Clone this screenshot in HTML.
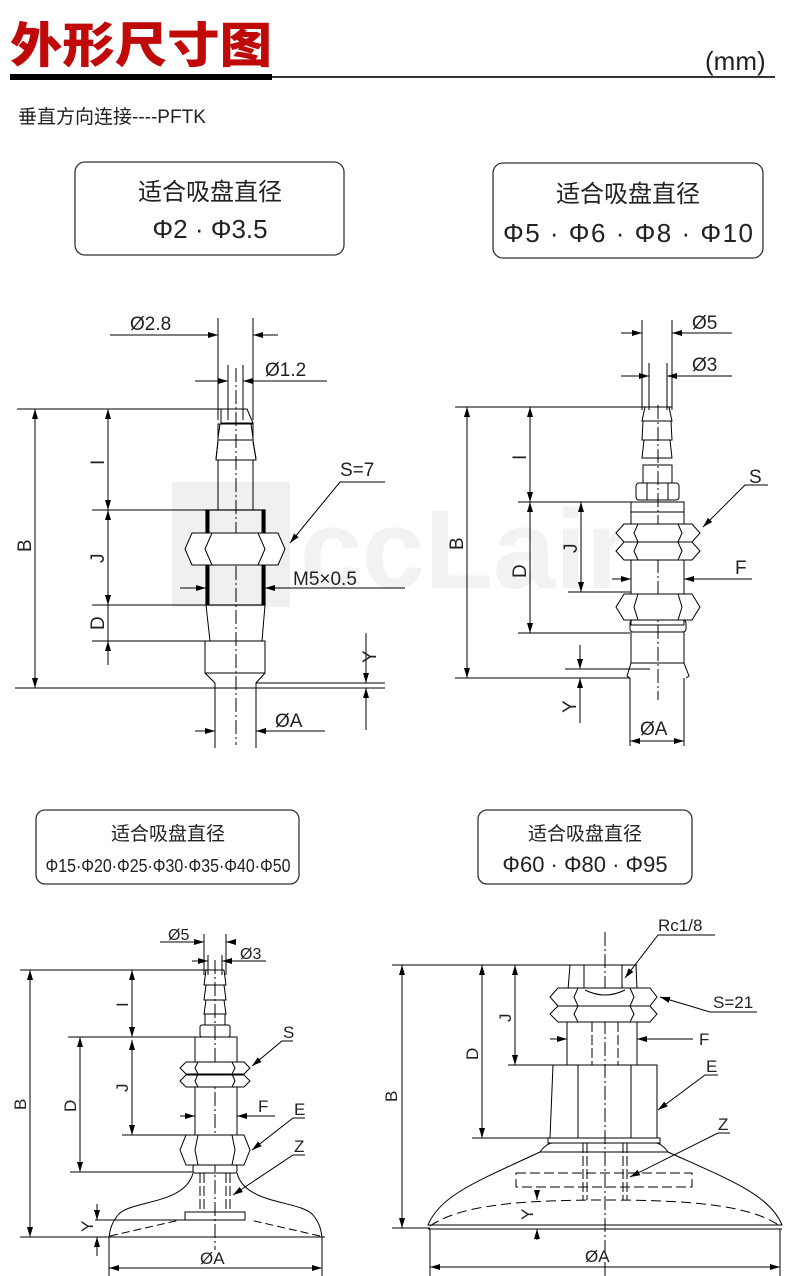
<!DOCTYPE html>
<html><head><meta charset="utf-8">
<style>
html,body{margin:0;padding:0;background:#fff;}
body{width:790px;height:1276px;overflow:hidden;position:relative;font-family:"Liberation Sans","Noto Sans CJK SC",sans-serif;}
svg{position:absolute;left:0;top:0;}
</style></head><body>
<svg width="790" height="1276" viewBox="0 0 790 1276" xmlns="http://www.w3.org/2000/svg" font-family="Liberation Sans, Noto Sans CJK SC, sans-serif">
<defs>
<marker id="a" viewBox="0 0 10 6" refX="10" refY="3" markerWidth="10" markerHeight="6" orient="auto-start-reverse" markerUnits="userSpaceOnUse"><path d="M0,0 L10,3 L0,6 z" fill="#000"/></marker>
</defs>
<!-- watermark -->
<rect x="172" y="482" width="118" height="125" fill="#f0f0f0"/>
<text x="300" y="588" font-size="112" font-weight="bold" fill="#f2f2f2">ccLair</text>

<!-- header -->
<text x="10" y="62" font-size="48" font-weight="900" fill="#c00a0a" font-family="Noto Sans CJK SC, sans-serif" textLength="262" lengthAdjust="spacingAndGlyphs">外形尺寸图</text>
<rect x="10" y="74" width="262" height="6" fill="#000"/>
<rect x="272" y="76" width="503" height="2" fill="#333"/>
<text x="705" y="70" font-size="26" fill="#222">(mm)</text>
<text x="18" y="123" font-size="19" fill="#222">垂直方向连接----PFTK</text>

<!-- boxes -->
<g fill="none" stroke="#333" stroke-width="1.3">
<rect x="75" y="162" width="269" height="93" rx="10"/>
<rect x="493" y="163" width="270" height="95" rx="10"/>
<rect x="36" y="810" width="263" height="74" rx="9"/>
<rect x="478" y="810" width="214" height="74" rx="9"/>
</g>
<g fill="#222" text-anchor="middle">
<text x="210" y="200" font-size="24">适合吸盘直径</text>
<text x="210" y="238" font-size="26">Φ2 · Φ3.5</text>
<text x="628" y="202" font-size="24">适合吸盘直径</text>
<text x="628" y="242" font-size="26" textLength="250" lengthAdjust="spacing">Φ5 · Φ6 · Φ8 · Φ10</text>
<text x="168" y="840" font-size="19">适合吸盘直径</text>
<text x="168" y="872" font-size="18" textLength="245" lengthAdjust="spacingAndGlyphs">Φ15·Φ20·Φ25·Φ30·Φ35·Φ40·Φ50</text>
<text x="585" y="840" font-size="19">适合吸盘直径</text>
<text x="585" y="872" font-size="22">Φ60 · Φ80 · Φ95</text>
</g>

<g stroke="#000" stroke-width="1" fill="none">
<!-- ============ Drawing 1 ============ -->
<line x1="218" y1="318" x2="218" y2="420"/><line x1="253" y1="318" x2="253" y2="420"/>
<line x1="110" y1="335" x2="218" y2="335" marker-end="url(#a)"/><line x1="278" y1="335" x2="253" y2="335" marker-end="url(#a)"/>
<line x1="228" y1="365" x2="228" y2="420"/><line x1="243" y1="365" x2="243" y2="420"/>
<line x1="195" y1="381" x2="228" y2="381" marker-end="url(#a)"/><line x1="327" y1="381" x2="243" y2="381" marker-end="url(#a)"/>
<line x1="236" y1="368" x2="236" y2="745" stroke-dasharray="14,3,2,3"/>
<line x1="17" y1="409" x2="247" y2="409"/>
<path d="M221,409 L247,409 L253,423 L221,423 Z M218,424 L253,424 L253,440 L218,440 Z M218,440 L253,440 L256,460 L216,460 Z"/>
<path d="M220,424 L218,438 M251,424 L253,438 M218,442 L216,458 M253,442 L256,458"/>
<rect x="218" y="460" width="35" height="50"/>
<rect x="206" y="510" width="59" height="95" stroke-width="1.2"/>
<line x1="208" y1="510" x2="208" y2="605" stroke-width="3"/><line x1="263" y1="510" x2="263" y2="605" stroke-width="3"/>
<path d="M192,533 L278,533 L285,549 L278,565 L192,565 L185,549 Z" fill="#fff"/>
<path d="M212,533 L205,549 L212,565 M258,533 L265,549 L258,565"/>
<line x1="180" y1="588" x2="206" y2="588" marker-end="url(#a)"/><line x1="405" y1="588" x2="265" y2="588" marker-end="url(#a)"/>
<path d="M206,605 L210,641 L262,641 L265,605"/>
<path d="M205,641 L265,641 L265,673 L256,683 L256,745 M205,641 L205,673 L215,683 L215,745"/>
<line x1="205" y1="673" x2="265" y2="673"/>
<line x1="15" y1="688" x2="385" y2="688"/><line x1="256" y1="683" x2="385" y2="683"/>
<line x1="35" y1="409" x2="35" y2="688" marker-start="url(#a)" marker-end="url(#a)"/>
<line x1="92" y1="510" x2="206" y2="510"/><line x1="92" y1="605" x2="206" y2="605"/><line x1="92" y1="641" x2="205" y2="641"/>
<line x1="108" y1="409" x2="108" y2="510" marker-start="url(#a)" marker-end="url(#a)"/>
<line x1="108" y1="510" x2="108" y2="605" marker-start="url(#a)" marker-end="url(#a)"/>
<line x1="108" y1="605" x2="108" y2="641"/><line x1="108" y1="665" x2="108" y2="641" marker-end="url(#a)"/>
<line x1="366" y1="633" x2="366" y2="683" marker-end="url(#a)"/><line x1="366" y1="730" x2="366" y2="688" marker-end="url(#a)"/>
<line x1="215" y1="690" x2="215" y2="748"/><line x1="256" y1="690" x2="256" y2="748"/>
<line x1="195" y1="731" x2="215" y2="731" marker-end="url(#a)"/><line x1="325" y1="731" x2="256" y2="731" marker-end="url(#a)"/>
<path d="M385,482 L340,482 L290,543" marker-end="url(#a)"/>

<!-- ============ Drawing 2 ============ -->
<line x1="642" y1="320" x2="642" y2="410"/><line x1="672" y1="320" x2="672" y2="410"/>
<line x1="621" y1="333" x2="642" y2="333" marker-end="url(#a)"/><line x1="732" y1="333" x2="672" y2="333" marker-end="url(#a)"/>
<line x1="649" y1="363" x2="649" y2="410"/><line x1="667" y1="363" x2="667" y2="410"/>
<line x1="621" y1="376" x2="649" y2="376" marker-end="url(#a)"/><line x1="732" y1="376" x2="667" y2="376" marker-end="url(#a)"/>
<line x1="658" y1="405" x2="658" y2="700" stroke-dasharray="14,3,2,3"/>
<line x1="455" y1="407" x2="672" y2="407"/>
<path d="M645,407 L669,407 L672,421 L642,421 Z M643,421 L671,421 L672,440 L642,440 Z M644,440 L670,440 L672,458 L642,458 Z"/>
<rect x="643" y="465" width="29" height="18"/>
<rect x="636" y="483" width="43" height="17" rx="3"/><path d="M647,483 L647,500 M668,483 L668,500"/>
<rect x="631" y="502" width="53" height="123"/><line x1="631" y1="512" x2="684" y2="512"/>
<path d="M624,524 L692,524 L700,533 L692,542 L624,542 L616,533 Z M624,542 L692,542 L700,551 L692,560 L624,560 L616,551 Z" fill="#fff"/>
<path d="M638,524 L634,533 L638,542 L634,551 L638,560 M678,524 L682,533 L678,542 L682,551 L678,560"/>
<line x1="612" y1="579" x2="631" y2="579" marker-end="url(#a)"/><line x1="752" y1="579" x2="684" y2="579" marker-end="url(#a)"/>
<path d="M624,594 L692,594 L700,607 L692,620 L624,620 L616,607 Z" fill="#fff"/>
<path d="M638,594 L634,607 L638,620 M678,594 L682,607 L678,620"/>
<rect x="630" y="620" width="56" height="12" rx="3"/>
<path d="M631,632 L631,663 L627,676 L630,678 M684,632 L684,663 L689,676 L686,678"/>
<line x1="631" y1="663" x2="684" y2="663"/>
<line x1="455" y1="678" x2="630" y2="678"/><line x1="565" y1="669" x2="650" y2="669"/>
<line x1="467" y1="407" x2="467" y2="678" marker-start="url(#a)" marker-end="url(#a)"/>
<line x1="518" y1="502" x2="631" y2="502"/><line x1="518" y1="633" x2="630" y2="633"/><line x1="568" y1="592" x2="631" y2="592"/>
<line x1="530" y1="407" x2="530" y2="502" marker-start="url(#a)" marker-end="url(#a)"/>
<line x1="530" y1="502" x2="530" y2="633" marker-start="url(#a)" marker-end="url(#a)"/>
<line x1="581" y1="502" x2="581" y2="592" marker-start="url(#a)" marker-end="url(#a)"/>
<line x1="580" y1="645" x2="580" y2="669" marker-end="url(#a)"/><line x1="580" y1="723" x2="580" y2="678" marker-end="url(#a)"/>
<line x1="630" y1="678" x2="630" y2="746"/><line x1="684" y1="678" x2="684" y2="746"/>
<line x1="630" y1="741" x2="684" y2="741" marker-start="url(#a)" marker-end="url(#a)"/>
<path d="M768,485 L745,485 L703,527" marker-end="url(#a)"/>

<!-- ============ Drawing 3 ============ -->
<line x1="204" y1="934" x2="204" y2="975"/><line x1="226" y1="934" x2="226" y2="975"/>
<line x1="160" y1="942" x2="204" y2="942" marker-end="url(#a)"/><line x1="232" y1="942" x2="226" y2="942" marker-end="url(#a)"/>
<line x1="208" y1="955" x2="208" y2="975"/><line x1="222" y1="955" x2="222" y2="975"/>
<line x1="192" y1="961" x2="208" y2="961" marker-end="url(#a)"/><line x1="266" y1="961" x2="222" y2="961" marker-end="url(#a)"/>
<line x1="215" y1="960" x2="215" y2="1250" stroke-dasharray="14,3,2,3"/>
<line x1="20" y1="970" x2="210" y2="970"/>
<path d="M206,970 L224,970 L226,985 L204,985 Z M206,985 L224,985 L226,1000 L204,1000 Z M206,1000 L224,1000 L226,1014 L204,1014 Z"/>
<rect x="205" y="1014" width="20" height="11"/>
<rect x="200" y="1025" width="30" height="12" rx="2"/>
<rect x="195" y="1037" width="42" height="98"/>
<path d="M186,1062 L244,1062 L250,1068 L244,1074 L186,1074 L180,1068 Z M186,1075 L244,1075 L250,1081 L244,1087 L186,1087 L180,1081 Z" fill="#fff"/>
<path d="M198,1062 L195,1068 L198,1074 L195,1081 L198,1087 M232,1062 L235,1068 L232,1074 L235,1081 L232,1087"/>
<line x1="180" y1="1116" x2="195" y2="1116" marker-end="url(#a)"/><line x1="275" y1="1116" x2="237" y2="1116" marker-end="url(#a)"/>
<path d="M186,1135 L244,1135 L250,1150 L244,1165 L186,1165 L180,1150 Z" fill="#fff"/>
<path d="M198,1135 L195,1150 L198,1165 M232,1135 L235,1150 L232,1165"/>
<rect x="193" y="1165" width="44" height="8" rx="2"/>
<path d="M193,1173 C185,1205 130,1200 118,1215 C110,1225 110,1232 109,1237 L322,1237 C321,1232 321,1225 313,1215 C300,1200 245,1205 237,1173"/>
<path d="M110,1236 L180,1220 M320,1236 L250,1220" stroke-dasharray="8,4"/>
<path d="M200,1173 L200,1210 M204,1173 L204,1210 M226,1173 L226,1210 M230,1173 L230,1210" stroke-dasharray="10,3"/>
<rect x="185" y="1212" width="60" height="8"/>
<line x1="20" y1="1237" x2="325" y2="1237"/>
<line x1="30" y1="970" x2="30" y2="1237" marker-start="url(#a)" marker-end="url(#a)"/>
<line x1="68" y1="1037" x2="195" y2="1037"/><line x1="122" y1="1135" x2="195" y2="1135"/><line x1="70" y1="1172" x2="193" y2="1172"/>
<line x1="132" y1="970" x2="132" y2="1037" marker-start="url(#a)" marker-end="url(#a)"/>
<line x1="132" y1="1040" x2="132" y2="1135" marker-start="url(#a)" marker-end="url(#a)"/>
<line x1="80" y1="1037" x2="80" y2="1172" marker-start="url(#a)" marker-end="url(#a)"/>
<line x1="95" y1="1220" x2="185" y2="1220"/>
<line x1="97" y1="1204" x2="97" y2="1220" marker-end="url(#a)"/><line x1="97" y1="1256" x2="97" y2="1237" marker-end="url(#a)"/>
<line x1="109" y1="1237" x2="109" y2="1276"/><line x1="322" y1="1237" x2="322" y2="1276"/>
<line x1="109" y1="1268" x2="322" y2="1268" marker-start="url(#a)" marker-end="url(#a)"/>
<path d="M293,1041 L282,1041 L252,1066" marker-end="url(#a)"/>
<path d="M305,1118 L293,1118 L252,1150" marker-end="url(#a)"/>
<path d="M305,1155 L293,1155 L233,1195" marker-end="url(#a)"/>

<!-- ============ Drawing 4 ============ -->
<line x1="605" y1="932" x2="605" y2="1276" stroke-dasharray="14,3,2,3"/>
<line x1="392" y1="965" x2="637" y2="965"/>
<path d="M570,965 L636,965 L637,990 L568,990 Z"/><path d="M584,965 L584,990 M622,965 L622,990"/>
<path d="M558,988 L650,988 L657,997 L650,1006 L558,1006 L550,997 Z M558,1006 L650,1006 L657,1014 L650,1022 L558,1022 L550,1014 Z" fill="#fff"/>
<path d="M578,988 L574,997 L578,1006 L574,1014 L578,1022 M630,988 L634,997 L630,1006 L634,1014 L630,1022"/>
<path d="M585,990 Q605,1000 625,990" />
<rect x="567" y="1022" width="70" height="43"/>
<path d="M592,1022 L592,1065 M618,1022 L618,1065" stroke-dasharray="10,3"/>
<line x1="550" y1="1039" x2="567" y2="1039" marker-end="url(#a)"/><line x1="693" y1="1039" x2="637" y2="1039" marker-end="url(#a)"/>
<path d="M553,1065 L657,1065 L657,1138 L550,1138 Z"/>
<path d="M578,1065 L578,1138 M631,1065 L631,1138"/>
<rect x="548" y="1138" width="112" height="5"/>
<path d="M540,1152 C545,1145 550,1143 552,1143 M668,1152 C663,1145 658,1143 656,1143"/>
<line x1="540" y1="1152" x2="668" y2="1152"/>
<path d="M540,1152 C480,1180 440,1195 428,1225 L782,1225 C770,1195 730,1180 668,1152"/>
<line x1="428" y1="1229" x2="782" y2="1229"/>
<path d="M430,1226 C460,1205 520,1200 605,1200 C690,1200 750,1205 780,1226" stroke-dasharray="10,5"/>
<rect x="516" y="1173" width="176" height="14" stroke-dasharray="10,4"/>
<path d="M583,1143 L583,1200 M587,1143 L587,1200 M623,1143 L623,1200 M627,1143 L627,1200" stroke-dasharray="10,3"/>
<line x1="402" y1="965" x2="402" y2="1228" marker-start="url(#a)" marker-end="url(#a)"/>
<line x1="472" y1="1138" x2="550" y2="1138"/><line x1="508" y1="1065" x2="567" y2="1065"/>
<line x1="482" y1="965" x2="482" y2="1138" marker-start="url(#a)" marker-end="url(#a)"/>
<line x1="515" y1="965" x2="515" y2="1065" marker-start="url(#a)" marker-end="url(#a)"/>
<line x1="537" y1="1190" x2="537" y2="1200" marker-end="url(#a)"/><line x1="537" y1="1240" x2="537" y2="1229" marker-end="url(#a)"/>
<line x1="392" y1="1228" x2="430" y2="1228"/>
<line x1="430" y1="1229" x2="430" y2="1276"/><line x1="780" y1="1229" x2="780" y2="1276"/>
<line x1="430" y1="1267" x2="780" y2="1267" marker-start="url(#a)" marker-end="url(#a)"/>
<path d="M715,935 L658,935 L625,978" marker-end="url(#a)"/>
<path d="M757,1012 L710,1012 L660,997" marker-end="url(#a)"/>
<path d="M718,1075 L705,1075 L658,1110" marker-end="url(#a)"/>
<path d="M730,1133 L718,1133 L630,1177" marker-end="url(#a)"/>
</g>

<!-- labels -->
<g fill="#222" font-size="19">
<text x="130" y="330">Ø2.8</text>
<text x="265" y="376">Ø1.2</text>
<text x="340" y="476">S=7</text>
<text x="293" y="585">M5×0.5</text>
<text x="275" y="727">ØA</text>
<text x="692" y="329">Ø5</text>
<text x="692" y="371">Ø3</text>
<text x="749" y="483">S</text>
<text x="735" y="574">F</text>
<text x="640" y="735">ØA</text>
<text x="168" y="940" font-size="16">Ø5</text>
<text x="240" y="959" font-size="16">Ø3</text>
<text x="283" y="1038" font-size="17">S</text>
<text x="258" y="1112" font-size="17">F</text>
<text x="294" y="1115" font-size="17">E</text>
<text x="294" y="1152" font-size="17">Z</text>
<text x="200" y="1264" font-size="17">ØA</text>
<text x="658" y="931" font-size="17">Rc1/8</text>
<text x="713" y="1008" font-size="17">S=21</text>
<text x="699" y="1045" font-size="17">F</text>
<text x="706" y="1072" font-size="17">E</text>
<text x="718" y="1130" font-size="17">Z</text>
<text x="585" y="1262" font-size="17">ØA</text>
</g>
<g fill="#222" font-size="19">
<text transform="translate(31,552) rotate(-90)">B</text>
<text transform="translate(104,465) rotate(-90)">I</text>
<text transform="translate(104,563) rotate(-90)">J</text>
<text transform="translate(104,630) rotate(-90)">D</text>
<text transform="translate(376,663) rotate(-90)">Y</text>
<text transform="translate(463,550) rotate(-90)">B</text>
<text transform="translate(526,460) rotate(-90)">I</text>
<text transform="translate(526,578) rotate(-90)">D</text>
<text transform="translate(577,553) rotate(-90)">J</text>
<text transform="translate(576,713) rotate(-90)">Y</text>
<g font-size="17">
<text transform="translate(26,1110) rotate(-90)">B</text>
<text transform="translate(128,1007) rotate(-90)">I</text>
<text transform="translate(128,1092) rotate(-90)">J</text>
<text transform="translate(76,1112) rotate(-90)">D</text>
<text transform="translate(93,1232) rotate(-90)">Y</text>
<text transform="translate(397,1102) rotate(-90)">B</text>
<text transform="translate(478,1060) rotate(-90)">D</text>
<text transform="translate(511,1022) rotate(-90)">J</text>
<text transform="translate(533,1220) rotate(-90)">Y</text>
</g>
</g>
</svg>
</body></html>
